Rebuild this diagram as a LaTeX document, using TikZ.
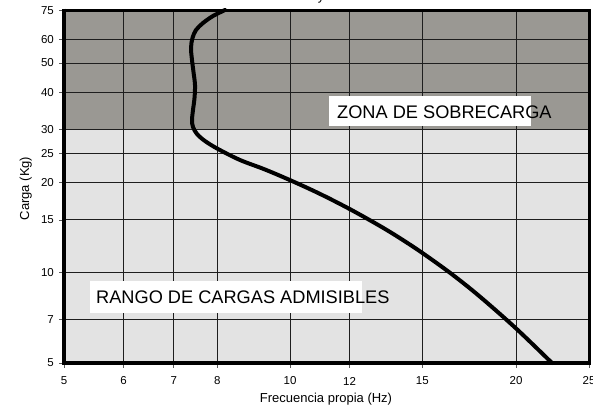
\documentclass[tikz,border=0pt]{standalone}
\usepackage{fontspec}
\setmainfont{Liberation Sans}
\definecolor{overload}{RGB}{154,152,147}
\definecolor{admissible}{RGB}{227,227,227}
\definecolor{gridcol}{RGB}{30,30,30}
\tikzset{
  gridline/.style={draw=gridcol, line width=0.9pt},
  tickmark/.style={draw=gray!70!black, line width=0.8pt},
  ticklabel/.style={inner sep=0pt, font=\fontsize{11.5}{12}\selectfont},
  axistitle/.style={inner sep=0pt, font=\fontsize{13}{14}\selectfont},
  zonelabel/.style={inner sep=0pt, font=\fontsize{18.2}{20}\selectfont},
  frame/.style={draw=black, line width=3pt},
  axisline/.style={draw=black, line width=3.8pt},
  curve/.style={draw=black, line width=4pt, line cap=round, line join=round}
}
\begin{document}
\begin{tikzpicture}[x=1pt,y=-1pt]
\useasboundingbox (0,0) rectangle (606,407);
\fill[white] (0,0) rectangle (606,407);
% regions
\fill[admissible] (64,129.5) rectangle (589,363);
\fill[overload] (64,10) rectangle (589,129.5);
% grid
\foreach \y in {319.2,272.7,219.9,182.4,153.3,129.5,92.1,63,39.2}
  \draw[gridline] (64,\y) -- (589,\y);
\foreach \x in {123.5,173.7,217.3,290.1,349.5,422.3,516.1}
  \draw[gridline] (\x,10) -- (\x,363);
% y ticks and labels
\foreach \y/\lab in {363/5,319.2/7,272.7/10,219.9/15,182.4/20,153.3/25,129.5/30,92.1/40,63/50,39.2/60,10.2/75}{
  \draw[tickmark] (59,\y) -- (64,\y);
  \node[ticklabel, anchor=east] (yl\lab) at (54,\y) {\lab};
}
% x ticks and labels
\foreach \x/\lab in {64/5,123.5/6,173.7/7,217.3/8,290.1/10,349.5/12,422.3/15,516.1/20}{
  \draw[tickmark] (\x,363) -- (\x,368);
  \node[ticklabel] (xl\lab) at (\x,381) {\lab};
}
\begin{scope}
  \clip (0,0) rectangle (592,407);
  \draw[tickmark] (589,363) -- (589,368);
  \node[ticklabel] (xl25) at (589,381) {25};
\end{scope}
% zone labels
\fill[white] (329,96) rectangle (531,126);
\node[zonelabel, anchor=west] (zona) at (337,112) {ZONA DE SOBRECARGA};
\fill[white] (90,281) rectangle (362,313);
\node[zonelabel, anchor=west] (rango) at (96,297) {RANGO DE CARGAS ADMISIBLES};
% curve
\draw[curve] plot[smooth, tension=0.55] coordinates {
 (225,10) (213,16) (203,23) (196,30) (192.5,38) (191,48) (192,60) (193.5,72)
 (195,85) (194.5,98) (193,110) (192,120) (193,127) (197,134) (205,141)
 (218,149) (240,160) (265,169.5) (292,181) (320,193.9) (350,209.2) (380,226)
 (400,238.2) (423,253.4) (452,274.3) (480,296.7) (516,328.4) (552,363)};
% frame
\draw[frame] (64,10) -- (589,10) -- (589,363);
\draw[axisline] (64,8.5) -- (64,363) -- (590.5,363);
% titles
\node[axistitle, anchor=base] (xtitle) at (326,402) {Frecuencia propia (Hz)};
\node[axistitle, anchor=base, rotate=90] (ytitle) at (29,188.5) {Carga (Kg)};
\node[axistitle, anchor=base] (toptitle) at (321,0.5) {y};
\end{tikzpicture}
\end{document}
